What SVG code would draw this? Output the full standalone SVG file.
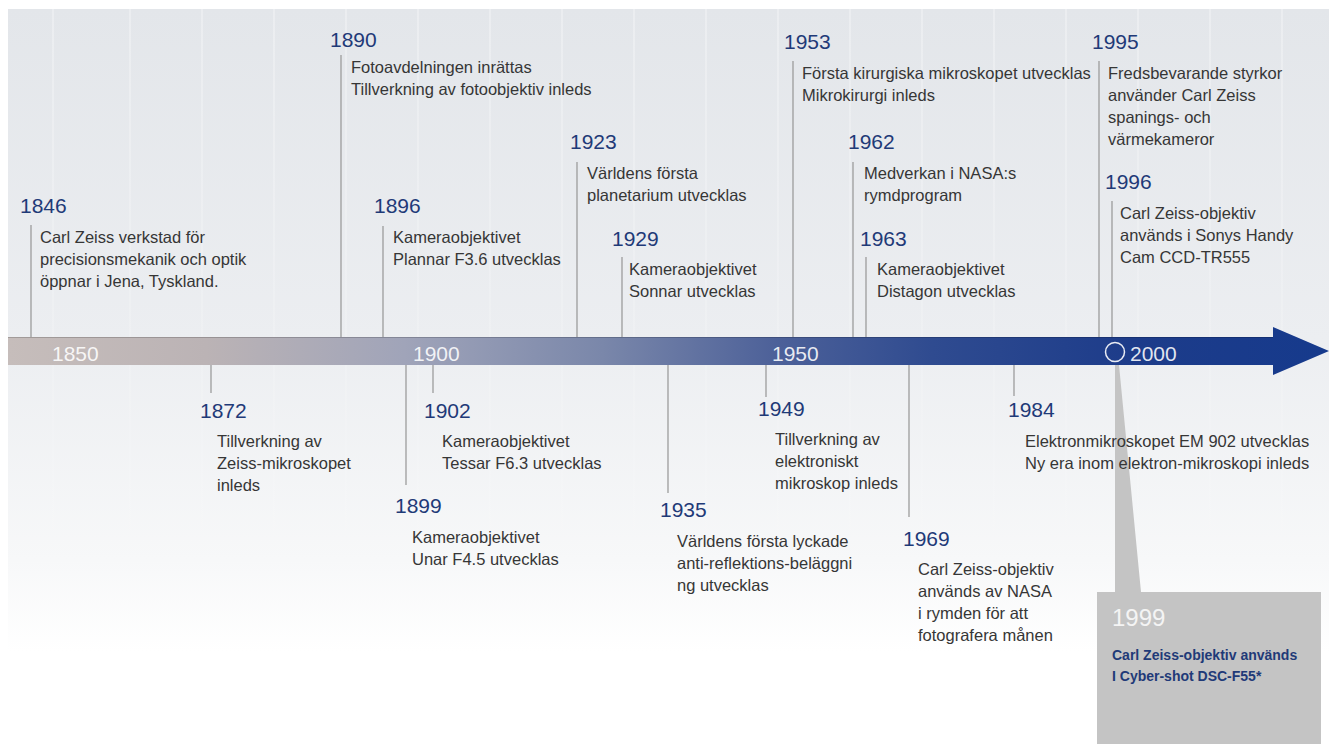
<svg xmlns="http://www.w3.org/2000/svg" width="1329" height="744" viewBox="0 0 1329 744">
  <defs>
    <linearGradient id="bg" x1="0" y1="0" x2="0" y2="1">
      <stop offset="0" stop-color="#e3e6ea"/>
      <stop offset="0.45" stop-color="#eceef1"/>
      <stop offset="0.75" stop-color="#f7f8f9"/>
      <stop offset="0.875" stop-color="#ffffff"/>
      <stop offset="1" stop-color="#ffffff"/>
    </linearGradient>
    <linearGradient id="bar" gradientUnits="userSpaceOnUse" x1="8" y1="0" x2="1329" y2="0">
      <stop offset="0" stop-color="#c6bdbb"/>
      <stop offset="0.15" stop-color="#bbb3b5"/>
      <stop offset="0.3" stop-color="#a0a4b9"/>
      <stop offset="0.45" stop-color="#7a87aa"/>
      <stop offset="0.58" stop-color="#4d6199"/>
      <stop offset="0.7" stop-color="#2f4b90"/>
      <stop offset="0.85" stop-color="#1d3c8a"/>
      <stop offset="1" stop-color="#163a8c"/>
    </linearGradient>
    <linearGradient id="stripe" x1="0" y1="0" x2="0" y2="1">
      <stop offset="0" stop-color="#ffffff" stop-opacity="0.3"/>
      <stop offset="1" stop-color="#ffffff" stop-opacity="0"/>
    </linearGradient>
  </defs>
  <style>
    .yr { font-family: "Liberation Sans", Arial, sans-serif; font-size: 21px; fill: #1f3a78; }
    .tx { font-family: "Liberation Sans", Arial, sans-serif; font-size: 16.5px; fill: #363636; }
    .bl { font-family: "Liberation Sans", Arial, sans-serif; font-size: 21px; fill: #ffffff; fill-opacity: 0.88; }
    .cb { font-family: "Liberation Sans", Arial, sans-serif; font-size: 14px; font-weight: bold; fill: #1f3a78; }
    .conn line { stroke: #9c9c9c; stroke-width: 1.3; }
    .st { fill: url(#stripe); }
  </style>

  <rect x="0" y="0" width="1329" height="744" fill="#ffffff"/>
  <rect x="8" y="9" width="1321" height="735" fill="url(#bg)"/>
  <g id="stripes">
    <rect class="st" x="52" y="9" width="2" height="641"/>
    <rect class="st" x="129" y="9" width="2" height="641"/>
    <rect class="st" x="201" y="9" width="2" height="641"/>
    <rect class="st" x="273" y="9" width="2" height="641"/>
    <rect class="st" x="345" y="9" width="2" height="641"/>
    <rect class="st" x="417" y="9" width="2" height="641"/>
    <rect class="st" x="489" y="9" width="2" height="641"/>
    <rect class="st" x="561" y="9" width="2" height="641"/>
    <rect class="st" x="633" y="9" width="2" height="641"/>
    <rect class="st" x="705" y="9" width="2" height="641"/>
    <rect class="st" x="777" y="9" width="2" height="641"/>
    <rect class="st" x="849" y="9" width="2" height="641"/>
    <rect class="st" x="921" y="9" width="2" height="641"/>
    <rect class="st" x="993" y="9" width="2" height="641"/>
    <rect class="st" x="1065" y="9" width="2" height="641"/>
    <rect class="st" x="1137" y="9" width="2" height="641"/>
    <rect class="st" x="1209" y="9" width="2" height="641"/>
    <rect class="st" x="1281" y="9" width="2" height="641"/>
  </g>

  <!-- 1999 callout shape (behind text) -->
  <g id="callout-1999-shape">
    <path d="M1115,365 L1119,365 L1141,592 L1321,592 L1321,744 L1097,744 L1097,592 L1115,592 Z" fill="#c4c4c4"/>
  </g>

  <!-- connectors -->
  <g id="connectors" class="conn">
    <line x1="31" y1="225" x2="31" y2="337"/>
    <line x1="341" y1="55" x2="341" y2="337"/>
    <line x1="383" y1="226" x2="383" y2="337"/>
    <line x1="577" y1="162" x2="577" y2="337"/>
    <line x1="622" y1="257" x2="622" y2="337"/>
    <line x1="793" y1="61" x2="793" y2="337"/>
    <line x1="853" y1="162" x2="853" y2="337"/>
    <line x1="866" y1="257" x2="866" y2="337"/>
    <line x1="1099" y1="61" x2="1099" y2="337"/>
    <line x1="1112" y1="201" x2="1112" y2="337"/>
    <line x1="211" y1="365" x2="211" y2="393"/>
    <line x1="406" y1="365" x2="406" y2="485"/>
    <line x1="433" y1="365" x2="433" y2="393"/>
    <line x1="668" y1="365" x2="668" y2="493"/>
    <line x1="766" y1="365" x2="766" y2="397"/>
    <line x1="909" y1="365" x2="909" y2="517"/>
    <line x1="1014" y1="365" x2="1014" y2="396"/>
  </g>

  <!-- timeline bar -->
  <g id="timeline">
    <path d="M8,337 L1273,337 L1273,327 L1329,351 L1273,375 L1273,365 L8,365 Z" fill="url(#bar)"/>
    <line x1="8" y1="337.5" x2="1273" y2="337.5" stroke="#000000" stroke-opacity="0.18" stroke-width="1"/>
    <text class="bl" x="52" y="361">1850</text>
    <text class="bl" x="413" y="361">1900</text>
    <text class="bl" x="772" y="361">1950</text>
    <circle cx="1115" cy="352" r="9.5" fill="none" stroke="#ffffff" stroke-opacity="0.9" stroke-width="1.5"/>
    <text class="bl" x="1130" y="361">2000</text>
  </g>

  <g id="e1846">
    <text class="yr" x="20" y="213">1846</text>
    <text class="tx" x="40" y="243">Carl Zeiss verkstad för</text>
    <text class="tx" x="40" y="265">precisionsmekanik och optik</text>
    <text class="tx" x="40" y="287">öppnar i Jena, Tyskland.</text>
  </g>
  <g id="e1890">
    <text class="yr" x="330" y="47">1890</text>
    <text class="tx" x="351" y="73">Fotoavdelningen inrättas</text>
    <text class="tx" x="351" y="95">Tillverkning av fotoobjektiv inleds</text>
  </g>
  <g id="e1896">
    <text class="yr" x="374" y="213">1896</text>
    <text class="tx" x="393" y="243">Kameraobjektivet</text>
    <text class="tx" x="393" y="265">Plannar F3.6 utvecklas</text>
  </g>
  <g id="e1923">
    <text class="yr" x="570" y="149">1923</text>
    <text class="tx" x="587" y="179">Världens första</text>
    <text class="tx" x="587" y="201">planetarium utvecklas</text>
  </g>
  <g id="e1929">
    <text class="yr" x="612" y="246">1929</text>
    <text class="tx" x="629" y="275">Kameraobjektivet</text>
    <text class="tx" x="629" y="297">Sonnar utvecklas</text>
  </g>
  <g id="e1953">
    <text class="yr" x="784" y="49">1953</text>
    <text class="tx" x="802" y="79">Första kirurgiska mikroskopet utvecklas</text>
    <text class="tx" x="802" y="101">Mikrokirurgi inleds</text>
  </g>
  <g id="e1962">
    <text class="yr" x="848" y="149">1962</text>
    <text class="tx" x="864" y="179">Medverkan i NASA:s</text>
    <text class="tx" x="864" y="201">rymdprogram</text>
  </g>
  <g id="e1963">
    <text class="yr" x="860" y="246">1963</text>
    <text class="tx" x="877" y="275">Kameraobjektivet</text>
    <text class="tx" x="877" y="297">Distagon utvecklas</text>
  </g>
  <g id="e1995">
    <text class="yr" x="1092" y="49">1995</text>
    <text class="tx" x="1108" y="79">Fredsbevarande styrkor</text>
    <text class="tx" x="1108" y="101">använder Carl Zeiss</text>
    <text class="tx" x="1108" y="123">spanings- och</text>
    <text class="tx" x="1108" y="145">värmekameror</text>
  </g>
  <g id="e1996">
    <text class="yr" x="1105" y="189">1996</text>
    <text class="tx" x="1120" y="219">Carl Zeiss-objektiv</text>
    <text class="tx" x="1120" y="241">används i Sonys Handy</text>
    <text class="tx" x="1120" y="263">Cam CCD-TR555</text>
  </g>

  <g id="e1872">
    <text class="yr" x="200" y="418">1872</text>
    <text class="tx" x="217" y="447">Tillverkning av</text>
    <text class="tx" x="217" y="469">Zeiss-mikroskopet</text>
    <text class="tx" x="217" y="491">inleds</text>
  </g>
  <g id="e1899">
    <text class="yr" x="395" y="513">1899</text>
    <text class="tx" x="412" y="543">Kameraobjektivet</text>
    <text class="tx" x="412" y="565">Unar F4.5 utvecklas</text>
  </g>
  <g id="e1902">
    <text class="yr" x="424" y="418">1902</text>
    <text class="tx" x="442" y="447">Kameraobjektivet</text>
    <text class="tx" x="442" y="469">Tessar F6.3 utvecklas</text>
  </g>
  <g id="e1935">
    <text class="yr" x="660" y="517">1935</text>
    <text class="tx" x="677" y="547">Världens första lyckade</text>
    <text class="tx" x="677" y="569">anti-reflektions-beläggni</text>
    <text class="tx" x="677" y="591">ng utvecklas</text>
  </g>
  <g id="e1949">
    <text class="yr" x="758" y="416">1949</text>
    <text class="tx" x="775" y="445">Tillverkning av</text>
    <text class="tx" x="775" y="467">elektroniskt</text>
    <text class="tx" x="775" y="489">mikroskop inleds</text>
  </g>
  <g id="e1969">
    <text class="yr" x="903" y="546">1969</text>
    <text class="tx" x="918" y="575">Carl Zeiss-objektiv</text>
    <text class="tx" x="918" y="597">används av NASA</text>
    <text class="tx" x="918" y="619">i rymden för att</text>
    <text class="tx" x="918" y="641">fotografera månen</text>
  </g>
  <g id="e1984">
    <text class="yr" x="1008" y="417">1984</text>
    <text class="tx" x="1025" y="447">Elektronmikroskopet EM 902 utvecklas</text>
    <text class="tx" x="1025" y="469">Ny era inom elektron-mikroskopi inleds</text>
  </g>
  <g id="e1999">
    <text x="1112" y="626" font-family="Liberation Sans, Arial, sans-serif" font-size="24" fill="#f4f4f4">1999</text>
    <text class="cb" x="1112" y="660">Carl Zeiss-objektiv används</text>
    <text class="cb" x="1112" y="681">I Cyber-shot DSC-F55*</text>
  </g>
</svg>
